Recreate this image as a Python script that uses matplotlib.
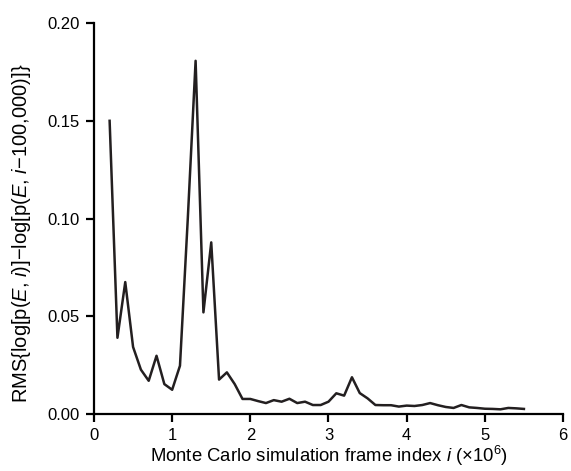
import numpy as np
import matplotlib
matplotlib.use("Agg")
import matplotlib.pyplot as plt

plt.rcParams['font.family'] = ['Liberation Sans', 'DejaVu Sans']
plt.rcParams['mathtext.fontset'] = 'custom'
plt.rcParams['mathtext.rm'] = 'Liberation Sans'
plt.rcParams['mathtext.it'] = 'Liberation Sans:italic'

# frame index (x 10^6) and RMS difference of log-probabilities
frame = np.round(np.arange(0.2, 5.51, 0.1), 1)
rms = [0.150, 0.039, 0.0675, 0.0343, 0.0227, 0.0170, 0.0298, 0.0153, 0.0124, 0.0247,
       0.100, 0.1807, 0.052, 0.0878, 0.0176, 0.0213, 0.0153, 0.0077, 0.0077, 0.0066,
       0.0056, 0.0071, 0.0063, 0.0078, 0.0056, 0.0063, 0.0046, 0.0046, 0.0063, 0.0106,
       0.0094, 0.0188, 0.0107, 0.0080, 0.0046, 0.0045, 0.0045, 0.0038, 0.0043, 0.0041,
       0.0046, 0.0056, 0.0045, 0.0036, 0.0031, 0.0046, 0.0034, 0.0031, 0.0027, 0.0026,
       0.0024, 0.0031, 0.0029, 0.0026]

fig = plt.figure(figsize=(5.71, 4.71), dpi=100)
ax = fig.add_axes([0.1646, 0.121, 0.8214, 0.830])
ax.plot(frame, rms, color='#231f20', lw=1.8)

ax.set_xlim(0, 6)
ax.set_ylim(0, 0.20)
ax.set_xticks(range(7))
ax.set_yticks([0, 0.05, 0.10, 0.15, 0.20])
ax.set_yticklabels(['0.00', '0.05', '0.10', '0.15', '0.20'])
for s in ['top', 'right']:
    ax.spines[s].set_visible(False)
for s in ['left', 'bottom']:
    ax.spines[s].set_linewidth(1.6)
ax.tick_params(direction='out', length=6, width=1.6, labelsize=12, pad=4)

ax.set_xlabel(r'Monte Carlo simulation frame index $i$ (×10$^6$)', fontsize=13.3, labelpad=1)
fig.text(0.038, 0.504, r'RMS{log[p($E$, $i$)]−log[p($E$, $i$−100,000)]}',
         fontsize=14.5, rotation=90, ha='center', va='center')

fig.savefig('out.png', dpi=100)
